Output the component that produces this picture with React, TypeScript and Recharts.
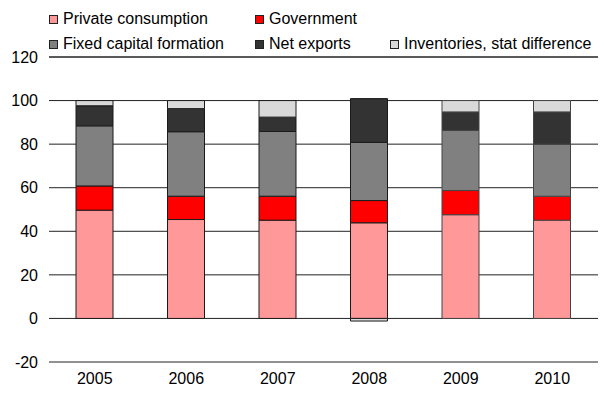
import React from 'react';
import { BarChart, Bar, XAxis, YAxis, CartesianGrid, Cell, ReferenceLine } from 'recharts';

const years = ['2005', '2006', '2007', '2008', '2009', '2010'];
const privateConsumption = [49.7, 45.4, 45.1, 43.9, 47.6, 45.1];
const government = [11.1, 10.7, 11.0, 10.2, 11.1, 11.0];
const fixedCapital = [27.6, 29.6, 29.7, 26.7, 27.6, 23.9];
const netExports = [9.2, 10.6, 6.6, 20.1, 8.5, 14.8];
const inventories = [2.4, 3.7, 7.6, -1.2, 5.2, 5.2];
const yTicks = [-20, 0, 20, 40, 60, 80, 100, 120];

const seriesNames = [
  'Private consumption',
  'Government',
  'Fixed capital formation',
  'Net exports',
  'Inventories, stat difference',
];
const seriesKeys = ['pc', 'gov', 'fcf', 'nx', 'inv'];
const seriesColors = ['#FF9999', '#FF0000', '#808080', '#333333', '#D9D9D9'];
const barStrokes = ['#1a1a1a', '#1a1a1a', '#1a1a1a', '#1a1a1a', '#444444', '#444444'];

const data = years.map((y, i) => ({
  year: y,
  pc: privateConsumption[i],
  gov: government[i],
  fcf: fixedCapital[i],
  nx: netExports[i],
  inv: inventories[i],
}));

const FONT = '"Liberation Sans", Arial, Helvetica, sans-serif';

const legendPos = [
  { x: 49, y: 15 },
  { x: 255, y: 15 },
  { x: 49, y: 40 },
  { x: 255, y: 40 },
  { x: 390, y: 40 },
];

const LegendBlock = () => (
  <div style={{ position: 'absolute', left: 0, top: 0, width: 606, height: 57 }}>
    {seriesNames.map((name, i) => (
      <div key={name} style={{ position: 'absolute', left: legendPos[i].x, top: legendPos[i].y, height: 9 }}>
        <div
          style={{
            position: 'absolute',
            left: 0,
            top: 0,
            width: 7,
            height: 7,
            background: seriesColors[i],
            border: '1px solid #222',
          }}
        />
        <div
          style={{
            position: 'absolute',
            left: 14,
            top: -5,
            whiteSpace: 'nowrap',
            fontSize: 16,
            lineHeight: '18px',
            color: '#000',
            fontFamily: FONT,
          }}
        >
          {name}
        </div>
      </div>
    ))}
  </div>
);

export default function App() {
  return (
    <div style={{ position: 'relative', width: 606, height: 394, margin: -8, fontFamily: FONT, overflow: 'hidden' }}>
      <BarChart
        width={606}
        height={394}
        data={data}
        stackOffset="sign"
        margin={{ top: 57, right: 8, bottom: 0, left: 0 }}
        barSize={37}
      >
        <CartesianGrid vertical={false} stroke="#222" strokeWidth={1} />
        <ReferenceLine y={120} stroke="#222" strokeWidth={1} ifOverflow="visible" />
        <XAxis
          dataKey="year"
          axisLine={false}
          tickLine={false}
          tickSize={0}
          tickMargin={11}
          height={32}
          tick={{ fill: '#000', fontSize: 16, fontFamily: FONT }}
          interval={0}
        />
        <YAxis
          domain={[-20, 120]}
          ticks={yTicks}
          axisLine={false}
          tickLine={false}
          tickSize={0}
          tickMargin={11}
          width={49}
          interval={0}
          tick={{ fill: '#000', fontSize: 16, fontFamily: FONT }}
        />
        {seriesKeys.map((k, si) => (
          <Bar
            key={k}
            dataKey={k}
            name={seriesNames[si]}
            stackId="a"
            fill={seriesColors[si]}
            stroke="#1a1a1a"
            strokeWidth={1}
            isAnimationActive={false}
          >
            {data.map((d, ci) => (
              <Cell key={ci} fill={seriesColors[si]} stroke={barStrokes[ci]} />
            ))}
          </Bar>
        ))}
      </BarChart>
      <LegendBlock />
    </div>
  );
}
